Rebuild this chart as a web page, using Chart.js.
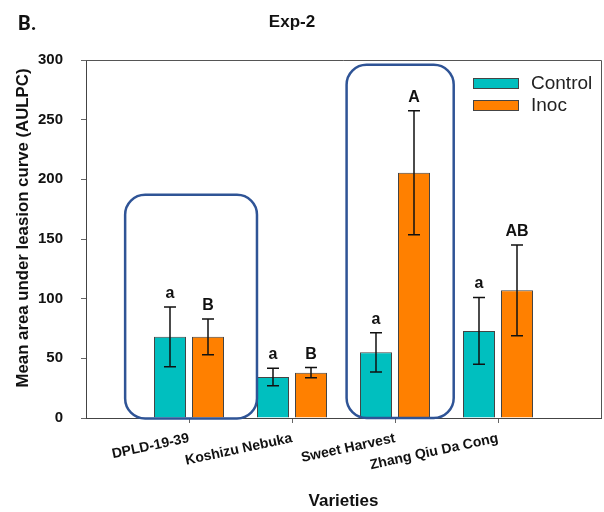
<!DOCTYPE html>
<html>
<head>
<meta charset="utf-8">
<script src="https://cdn.jsdelivr.net/npm/chart.js@4.4.1/dist/chart.umd.min.js"></script>
<style>
  html, body { margin: 0; padding: 0; background: #ffffff; }
  #wrap { width: 604px; height: 512px; }
</style>
</head>
<body>
<div id="wrap"><canvas id="chart" width="604" height="512"></canvas></div>
<script>
// Mean AULPC per variety, with standard-error bars and letter groupings
const varieties = ['DPLD-19-39', 'Koshizu Nebuka', 'Sweet Harvest', 'Zhang Qiu Da Cong'];
const controlMean = [68, 34.4, 55, 73];
const controlErr = [25, 7.3, 16.5, 28];
const inocMean = [68, 38, 205.5, 107];
const inocErr = [15, 4.3, 52, 38];
const controlLetters = ['a', 'a', 'a', 'a'];
const inocLetters = ['B', 'B', 'A', 'AB'];
const yTickValues = [0, 50, 100, 150, 200, 250, 300];

const panelLabel = 'B.';
const chartTitle = 'Exp-2';
const yTitle = 'Mean area under leasion curve (AULPC)';
const xTitle = 'Varieties';

const CYAN = 'rgb(0,191,191)';
const ORANGE = 'rgb(255,128,0)';
const FONT = '"Liberation Sans", Arial, sans-serif';

// one empty slot on each side of the varieties gives the wide side margins
const xLabels = ['', ...varieties, ''];
const pad = arr => [null, ...arr, null];

// error bars and significance letters drawn on top of the bars
const errorBarPlugin = {
  id: 'errorBars',
  afterDatasetsDraw(chart) {
    const ctx = chart.ctx;
    const y = chart.scales.y;
    chart.data.datasets.forEach((ds, di) => {
      const meta = chart.getDatasetMeta(di);
      meta.data.forEach((bar, i) => {
        const v = ds.data[i];
        if (v === null || v === undefined) return;
        const e = ds.errors[i];
        const yTop = y.getPixelForValue(v + e);
        const yBot = y.getPixelForValue(v - e);
        ctx.save();
        ctx.strokeStyle = '#111';
        ctx.lineWidth = 1.5;
        ctx.beginPath();
        ctx.moveTo(bar.x, yTop); ctx.lineTo(bar.x, yBot);
        ctx.moveTo(bar.x - 6, yTop); ctx.lineTo(bar.x + 6, yTop);
        ctx.moveTo(bar.x - 6, yBot); ctx.lineTo(bar.x + 6, yBot);
        ctx.stroke();
        ctx.fillStyle = '#111';
        ctx.font = 'bold 16px ' + FONT;
        ctx.textAlign = 'center';
        ctx.textBaseline = 'alphabetic';
        ctx.fillText(ds.letters[i], bar.x, yTop - 9);
        ctx.restore();
      });
    });
  }
};

// rounded outlines grouping selected varieties
const highlightPlugin = {
  id: 'highlights',
  afterDatasetsDraw(chart, args, opts) {
    const ctx = chart.ctx;
    const x = chart.scales.x, y = chart.scales.y;
    const step = x.getPixelForValue(2) - x.getPixelForValue(1);
    opts.boxes.forEach(b => {
      const c = x.getPixelForValue(xLabels.indexOf(b.category));
      const l = c + b.from * step, r = c + b.to * step;
      const t = y.getPixelForValue(b.top), btm = y.getPixelForValue(b.bottom);
      ctx.save();
      ctx.strokeStyle = '#2F5496';
      ctx.lineWidth = 2.5;
      ctx.beginPath();
      ctx.roundRect(l, t, r - l, btm - t, 20);
      ctx.stroke();
      ctx.restore();
    });
  }
};

// frame, titles and legend
const decorPlugin = {
  id: 'decor',
  afterDraw(chart) {
    const ctx = chart.ctx;
    const a = chart.chartArea;
    ctx.save();
    ctx.strokeStyle = '#555';
    ctx.lineWidth = 1;
    ctx.beginPath();
    ctx.moveTo(a.left, a.top + 0.5); ctx.lineTo(a.right + 0.5, a.top + 0.5);
    ctx.lineTo(a.right + 0.5, a.bottom);
    ctx.stroke();

    ctx.fillStyle = '#111';
    ctx.textBaseline = 'middle';
    ctx.textAlign = 'left';
    ctx.font = 'bold 20px Roboto, ' + FONT;
    ctx.fillText(panelLabel, 18, 25);
    ctx.textAlign = 'center';
    ctx.font = 'bold 17px ' + FONT;
    ctx.fillText(chartTitle, 292, 22);

    ctx.save();
    ctx.translate(23, 228);
    ctx.rotate(-Math.PI / 2);
    ctx.font = 'bold 16.8px ' + FONT;
    ctx.fillText(yTitle, 0, 0);
    ctx.restore();

    // legend
    chart.data.datasets.forEach((ds, i) => {
      const top = 78 + i * 22;
      ctx.fillStyle = ds.backgroundColor;
      ctx.fillRect(473, top, 46, 11);
      ctx.strokeStyle = '#444';
      ctx.lineWidth = 1;
      ctx.strokeRect(473.5, top + 0.5, 45, 10);
      ctx.fillStyle = '#222';
      ctx.textAlign = 'left';
      ctx.textBaseline = 'middle';
      ctx.font = '19px ' + FONT;
      ctx.fillText(ds.label, 531, top + 6);
    });
    ctx.restore();
  }
};

new Chart(document.getElementById('chart'), {
  type: 'bar',
  data: {
    labels: xLabels,
    datasets: [
      {
        label: 'Control',
        data: pad(controlMean),
        errors: pad(controlErr),
        letters: pad(controlLetters),
        backgroundColor: CYAN,
        borderColor: '#444',
        borderWidth: 1
      },
      {
        label: 'Inoc',
        data: pad(inocMean),
        errors: pad(inocErr),
        letters: pad(inocLetters),
        backgroundColor: ORANGE,
        borderColor: '#444',
        borderWidth: 1
      }
    ]
  },
  options: {
    responsive: false,
    animation: false,
    devicePixelRatio: 1,
    categoryPercentage: 0.738,
    barPercentage: 0.842,
    layout: { padding: { top: 60, right: 3, left: 0, bottom: 0 } },
    plugins: {
      legend: { display: false },
      tooltip: { enabled: false },
      title: { display: false },
      highlights: {
        boxes: [
          { category: 'DPLD-19-39', from: -0.62, to: 0.66, top: 187, bottom: -0.5 },
          { category: 'Sweet Harvest', from: -0.47, to: 0.57, top: 296, bottom: 0 }
        ]
      }
    },
    scales: {
      x: {
        offset: false,
        grid: {
          offset: false,
          drawOnChartArea: false,
          tickLength: 5,
          tickColor: c => (xLabels[c.index] ? '#666' : 'rgba(0,0,0,0)')
        },
        border: { display: true, color: '#444', width: 1 },
        ticks: {
          autoSkip: false,
          minRotation: 12,
          maxRotation: 12,
          padding: 7,
          color: '#111',
          font: { family: FONT, size: 14, weight: 'bold' }
        },
        title: {
          display: true,
          text: xTitle,
          color: '#111',
          font: { family: FONT, size: 17, weight: 'bold' },
          padding: { top: 4, bottom: 0 }
        },
        afterFit(scale) {
          scale.height = 94;
          scale.paddingLeft = 0;
          scale.paddingRight = 0;
        }
      },
      y: {
        min: 0,
        max: 300,
        afterBuildTicks(scale) { scale.ticks = yTickValues.map(v => ({ value: v })); },
        grid: { drawOnChartArea: false, tickLength: 5, tickColor: '#666' },
        border: { display: true, color: '#444', width: 1 },
        ticks: {
          padding: 18,
          color: '#111',
          font: { family: FONT, size: 15, weight: 'bold' }
        },
        afterFit(scale) { scale.width = 86; }
      }
    }
  },
  plugins: [highlightPlugin, errorBarPlugin, decorPlugin]
});
</script>
</body>
</html>
